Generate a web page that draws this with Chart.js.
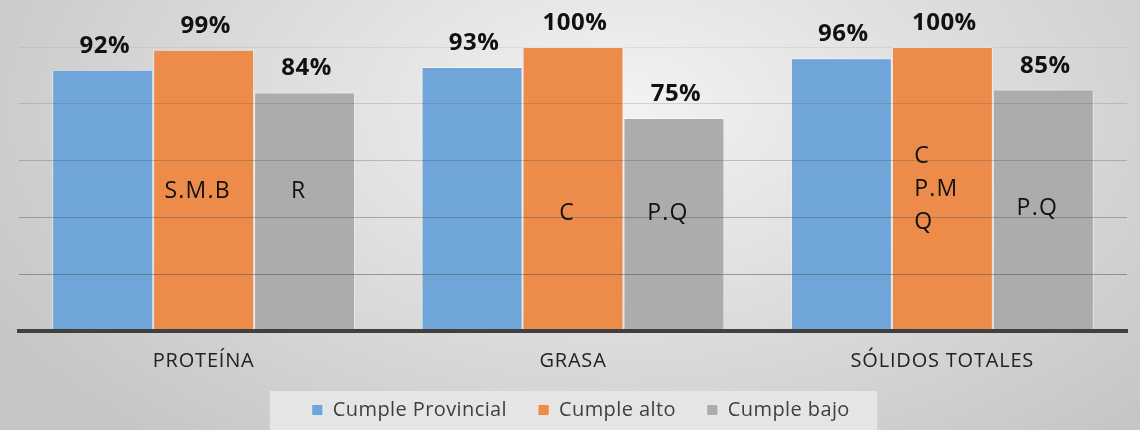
<!DOCTYPE html>
<html>
<head>
<meta charset="utf-8">
<script src="https://cdn.jsdelivr.net/npm/chart.js@4.4.1/dist/chart.umd.min.js"></script>
<style>
  html, body { margin: 0; padding: 0; background: #d8d8d8; }
  #wrap { width: 1140px; height: 430px; }
</style>
</head>
<body>
<div id="wrap"><canvas id="barChart"></canvas></div>
<script>
// data
var categories = ['PROTEÍNA', 'GRASA', 'SÓLIDOS TOTALES'];
var cumpleProvincial = [92, 93, 96];
var cumpleAlto = [99, 100, 100];
var cumpleBajo = [84, 75, 85];
var notasAlto = ['S.M.B', 'C', 'C\nP.M\nQ'];
var notasBajo = ['R', 'P.Q', 'P.Q'];

var FONT = '"Open Sans", "Noto Sans", sans-serif';

// background, legend panel and text labels
var fondo = {
	id: 'fondo',
	beforeDraw: function(chart){
		var ctx = chart.ctx;
		ctx.save();
		ctx.translate(620, 110);
		ctx.scale(1, 0.6);
		var g = ctx.createRadialGradient(0, 0, 0, 0, 0, 740);
		g.addColorStop(0, '#f3f3f3');
		g.addColorStop(1, '#c5c5c5');
		ctx.fillStyle = g;
		ctx.fillRect(-700, -300, 1500, 900);
		ctx.restore();

		var boxes = chart.legend.legendHitBoxes;
		if (boxes && boxes.length) {
			var last = boxes[boxes.length - 1];
			var l = boxes[0].left, r = last.left + last.width;
			ctx.save();
			ctx.fillStyle = '#e5e5e5';
			ctx.fillRect(l - 42, boxes[0].top - 9, (r - l) + 85, chart.height);
			ctx.restore();
		}
		ctx.letterSpacing = '0.4px';
	},
	afterDatasetsDraw: function(chart){
		// category labels are drawn after the bars (ticks.z = 1)
		chart.ctx.letterSpacing = '0.8px';
	},
	afterDraw: function(chart){
		var ctx = chart.ctx;
		ctx.letterSpacing = '0px';
		var y = chart.scales.y;
		// value labels
		ctx.save();
		ctx.fillStyle = '#111';
		ctx.textAlign = 'center';
		ctx.textBaseline = 'alphabetic';
		ctx.font = 'bold 24px ' + FONT;
		ctx.letterSpacing = '0.5px';
		chart.data.datasets.forEach(function(ds, i){
			chart.getDatasetMeta(i).data.forEach(function(bar, j){
				ctx.fillText(ds.data[j] + '%', bar.x + 2, bar.y - 17);
			});
		});
		// notes inside bars
		ctx.font = '23px ' + FONT;
		ctx.letterSpacing = '1.2px';
		ctx.textAlign = 'left';
		ctx.textBaseline = 'middle';
		var notas = [null, {t: notasAlto, pos: [49, 41.5, 50]}, {t: notasBajo, pos: [49, 41.5, 43]}];
		notas.forEach(function(n, i){
			if (!n) return;
			chart.getDatasetMeta(i).data.forEach(function(bar, j){
				var lines = n.t[j].split('\n');
				var w = Math.max.apply(null, lines.map(function(s){ return ctx.measureText(s).width; }));
				var cy = y.getPixelForValue(n.pos[j]);
				var lh = 33;
				lines.forEach(function(s, k){
					ctx.fillText(s, bar.x - 6 - w / 2, cy + (k - (lines.length - 1) / 2) * lh);
				});
			});
		});
		ctx.restore();
		ctx.letterSpacing = '0px';
	}
};

var ctx = document.getElementById('barChart').getContext('2d');
var barChart = new Chart(ctx, {
	type: 'bar',
	data: {
		labels: categories,
		datasets: [{
			label: 'Cumple Provincial',
			data: cumpleProvincial,
			backgroundColor: '#6fa5d8',
			borderColor: 'rgba(255,255,255,0.55)',
			borderWidth: 1
		}, {
			label: 'Cumple alto',
			data: cumpleAlto,
			backgroundColor: '#ec8b4a',
			borderColor: 'rgba(255,255,255,0.55)',
			borderWidth: 1
		}, {
			label: 'Cumple bajo',
			data: cumpleBajo,
			backgroundColor: '#acacac',
			borderColor: 'rgba(255,255,255,0.55)',
			borderWidth: 1
		}]
	},
	options: {
		responsive: true,
		maintainAspectRatio: false,
		animation: false,
		layout: { padding: { top: 47, left: 19, right: 13, bottom: 0 } },
		datasets: { bar: { categoryPercentage: 0.82, barPercentage: 1 } },
		plugins: {
			legend: {
				position: 'bottom',
				labels: {
					font: { family: FONT, size: 20 },
					color: '#404040',
					boxWidth: 11,
					boxHeight: 11,
					padding: 31
				}
			},
			tooltip: { enabled: false }
		},
		scales: {
			x: {
				grid: { display: false, drawTicks: false },
				border: { display: true, color: '#404040', width: 4, z: 2 },
				ticks: {
					z: 1,
					color: '#222',
					font: { family: FONT, size: 20 },
					padding: 18
				},
				afterFit: function(scale){ scale.height = 38; }
			},
			y: {
				min: 0,
				max: 100,
				ticks: { display: false, stepSize: 20 },
				border: { display: false },
				grid: {
					z: 1,
					drawTicks: false,
					color: function(c){
						var v = c.tick ? c.tick.value : 0;
						return 'rgba(80,80,80,' + (0.6 - v * 0.005) + ')';
					}
				}
			}
		}
	},
	plugins: [fondo]
});
</script>
</body>
</html>
